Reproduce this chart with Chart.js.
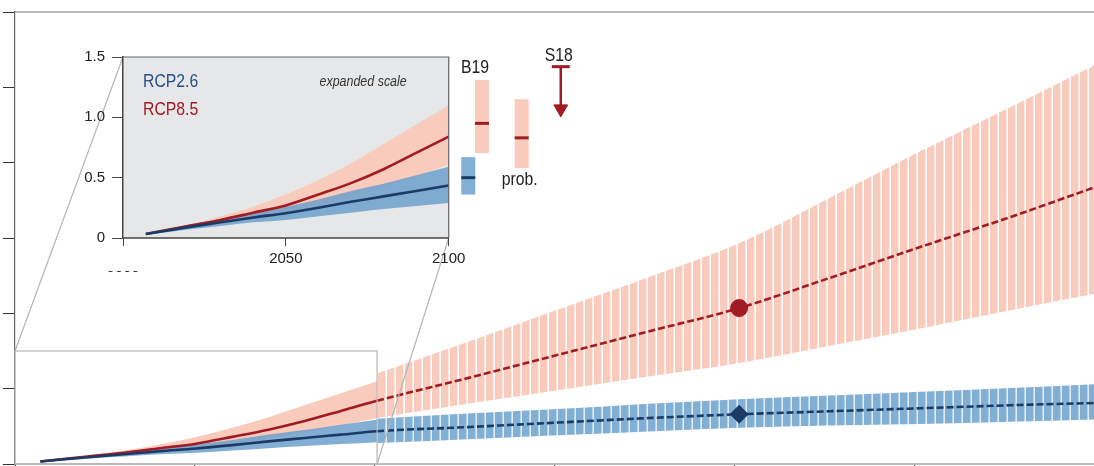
<!DOCTYPE html>
<html>
<head>
<meta charset="utf-8">
<script src="https://cdn.jsdelivr.net/npm/chart.js@4.4.1/dist/chart.umd.min.js"></script>
<style>
  html, body { margin: 0; padding: 0; background: #fff; overflow: hidden; }
  #wrap { position: relative; width: 1094px; height: 466px; }
  #main { position: absolute; left: 0; top: 0; }
  #inset { position: absolute; left: 60px; top: 40px; }
</style>
</head>
<body>
<div id="wrap">
  <canvas id="main" width="1094" height="466"></canvas>
  <canvas id="inset" width="540" height="232"></canvas>
</div>
<script>
// sea level rise (m)
const yearsNear  = [2007, 2020, 2030, 2040, 2050, 2060, 2070, 2080, 2090, 2100];
const rcp85Mid   = [0.033, 0.10, 0.15, 0.21, 0.27, 0.36, 0.455, 0.57, 0.705, 0.84];
const rcp85Hi    = [0.036, 0.11, 0.18, 0.26, 0.36, 0.48, 0.62, 0.78, 0.94, 1.10];
const rcp85Lo    = [0.030, 0.08, 0.12, 0.16, 0.21, 0.27, 0.34, 0.42, 0.51, 0.61];
const rcp26Mid   = [0.033, 0.09, 0.13, 0.17, 0.205, 0.25, 0.30, 0.345, 0.39, 0.435];
const rcp26Hi    = [0.036, 0.11, 0.16, 0.21, 0.26, 0.32, 0.39, 0.45, 0.52, 0.59];
const rcp26Lo    = [0.025, 0.07, 0.10, 0.13, 0.15, 0.18, 0.21, 0.24, 0.265, 0.29];

const yearsFar   = [2100, 2125, 2150, 2175, 2200, 2225, 2250, 2275, 2298];
const rcp85MidFar = [0.84, 1.14, 1.45, 1.76, 2.07, 2.47, 2.88, 3.28, 3.67];
const rcp85HiFar  = [1.20, 1.62, 2.05, 2.48, 2.93, 3.53, 4.15, 4.74, 5.29];
const rcp85LoFar  = [0.61, 0.80, 0.98, 1.16, 1.34, 1.57, 1.80, 2.04, 2.26];
const rcp26MidFar = [0.435, 0.49, 0.55, 0.61, 0.66, 0.70, 0.74, 0.78, 0.81];
const rcp26HiFar  = [0.60, 0.67, 0.73, 0.80, 0.86, 0.91, 0.96, 1.01, 1.06];
const rcp26LoFar  = [0.28, 0.33, 0.38, 0.43, 0.48, 0.51, 0.53, 0.56, 0.59];

const markYear = 2200;

// 2100 estimates beside the inset: [low, median, high]
const b19Low    = [0.36, 0.50, 0.67];
const b19High   = [0.705, 0.95, 1.31];
const probHigh  = [0.58, 0.83, 1.15];
const s18       = [1.42, 1.07];   // upper end, arrow head

const mainTicksY  = [0, 1, 2, 3, 4, 5, 6];
const insetTicksY = [0, 0.5, 1.0, 1.5];
const insetTicksX = [2000, 2050, 2100];

// layout (inset x units are years, the extra marks sit past 2100)
const insetX = [2000, 2100], insetY = [0, 1.5], insetXRoom = 2140;
const pos = { b19Lo: 2106, b19Hi: 2110.2, probHi: 2122.4, s18: 2134.4 };
const INSET_LEFT = 60, INSET_TOP = 40;
const FONT = '"Liberation Sans", Arial, sans-serif';

const RED = '#a01c22', NAVY = '#1b3a66';
const PINK = '#f9cbbd', BLUE = 'rgba(108,160,205,0.85)', BLUE_SOLID = '#82afd4';

function pts(xs, ys) { return xs.map((x, i) => ({ x: x, y: ys[i] })); }
function joined(a, b) { return pts(yearsNear, a).concat(pts(yearsFar, b).slice(1)); }

function stripes(color, gap) {
    const c = document.createElement('canvas');
    c.width = 9; c.height = 4;
    const g = c.getContext('2d');
    g.fillStyle = gap; g.fillRect(0, 0, 9, 4);
    g.fillStyle = color; g.fillRect(0, 0, 7.4, 4);
    return g.createPattern(c, 'repeat');
}

function band(data, fill, color, order) {
    return { data: data, fill: fill, backgroundColor: color, borderColor: 'transparent',
             borderWidth: 0, pointRadius: 0, order: order, cubicInterpolationMode: 'monotone' };
}

function median(data, color, order) {
    return { data: data, borderColor: color, borderWidth: 2.6, pointRadius: 0, fill: false,
             order: order, cubicInterpolationMode: 'monotone',
             segment: { borderDash: c => c.p0.parsed.x >= 2100 ? [7, 3] : undefined } };
}

// narrow-looking text: squeeze the regular face
function narrowText(ctx, text, x, y, size, color, align, italic) {
    ctx.save();
    ctx.font = (italic ? 'italic ' : '') + size + 'px ' + FONT;
    ctx.fillStyle = color;
    ctx.textAlign = align;
    ctx.textBaseline = 'alphabetic';
    ctx.translate(x, y);
    ctx.scale(0.83, 1);
    ctx.fillText(text, 0, 0);
    ctx.restore();
}

// ---------- inset ----------
function bar(x, v, color) {
    return { data: [{ x: x, y: v[0] }, { x: x, y: v[2] }], borderColor: color, borderWidth: 14,
             borderCapStyle: 'butt', pointRadius: 0, fill: false, order: 5 };
}
function tick(x, y, color, r) {
    return { data: [{ x: x, y: y }], showLine: false, pointStyle: 'line', pointRadius: r,
             pointBorderColor: color, pointBorderWidth: 3, order: 4 };
}

const insetDeco = {
    id: 'insetDeco',
    beforeDraw(chart) {
        const { ctx, chartArea: a, scales: { x } } = chart;
        const r = x.getPixelForValue(insetX[1]);
        ctx.save();
        ctx.fillStyle = '#e6e7e8';
        ctx.fillRect(a.left, a.top, r - a.left, a.bottom - a.top);
        ctx.restore();
    },
    afterDraw(chart) {
        const { ctx, chartArea: a, scales: { x, y } } = chart;
        const r = x.getPixelForValue(insetX[1]);
        ctx.save();
        ctx.strokeStyle = '#666';
        ctx.lineWidth = 1.2;
        ctx.beginPath();
        ctx.moveTo(a.left, a.top); ctx.lineTo(r, a.top); ctx.lineTo(r, a.bottom);
        ctx.stroke();
        ctx.strokeStyle = '#444';
        ctx.lineWidth = 1.5;
        ctx.beginPath();
        ctx.moveTo(a.left, a.bottom); ctx.lineTo(r, a.bottom);
        ctx.stroke();
        ctx.restore();

        narrowText(ctx, 'RCP2.6', a.left + 20, a.top + 30, 19, '#27508a', 'left');
        narrowText(ctx, 'RCP8.5', a.left + 20, a.top + 58, 19, RED, 'left');
        narrowText(ctx, 'expanded scale', r - 42, a.top + 29, 15, '#333', 'right', true);
        narrowText(ctx, 'B19', x.getPixelForValue((pos.b19Lo + pos.b19Hi) / 2),
                   y.getPixelForValue(b19High[2]) - 7, 19, '#222', 'center');
        narrowText(ctx, 'prob.', x.getPixelForValue(pos.probHi) - 2,
                   y.getPixelForValue(probHigh[0]) + 17, 19, '#222', 'center');
        narrowText(ctx, 'S18', x.getPixelForValue(pos.s18) - 2,
                   y.getPixelForValue(s18[0]) - 6, 19, '#222', 'center');
    }
};

const insetChart = new Chart(document.getElementById('inset'), {
    type: 'line',
    data: {
        datasets: [
            band(pts(yearsNear, rcp85Hi), '+1', PINK, 10),
            band(pts(yearsNear, rcp85Lo), false, PINK, 10),
            band(pts(yearsNear, rcp26Hi), '+1', BLUE, 9),
            band(pts(yearsNear, rcp26Lo), false, BLUE, 9),
            median(pts(yearsNear, rcp85Mid), RED, 3),
            median(pts(yearsNear, rcp26Mid), NAVY, 2),
            bar(pos.b19Lo, b19Low, BLUE_SOLID),
            bar(pos.b19Hi, b19High, PINK),
            bar(pos.probHi, probHigh, PINK),
            tick(pos.b19Lo, b19Low[1], NAVY, 7),
            tick(pos.b19Hi, b19High[1], RED, 7),
            tick(pos.probHi, probHigh[1], RED, 7),
            tick(pos.s18, s18[0], RED, 9),
            { data: [{ x: pos.s18, y: s18[0] }, { x: pos.s18, y: s18[1] }], borderColor: RED,
              borderWidth: 2.5, pointRadius: 0, fill: false, order: 4 },
            { data: [{ x: pos.s18, y: s18[1] }], showLine: false, pointStyle: 'triangle', rotation: 180,
              pointRadius: 8, pointBackgroundColor: RED, pointBorderColor: RED, pointBorderWidth: 1,
              order: 4 }
        ]
    },
    options: {
        responsive: false,
        animation: false,
        devicePixelRatio: 1,
        layout: { autoPadding: false, padding: { top: 17, right: 21, left: 0, bottom: 0 } },
        plugins: { legend: { display: false }, tooltip: { enabled: false } },
        scales: {
            x: {
                type: 'linear', min: insetX[0], max: insetXRoom, offset: false,
                afterBuildTicks: s => { s.ticks = insetTicksX.map(v => ({ value: v })); },
                ticks: { maxRotation: 0, autoSkip: false, padding: 4, color: '#222',
                         font: { family: FONT, size: 15 },
                         callback: v => v === 2000 ? ['', '2000'] : String(v) },
                grid: { drawOnChartArea: false, tickLength: 8, color: '#444' },
                border: { display: false },
                afterFit: s => { s.height = 34; }
            },
            y: {
                min: insetY[0], max: insetY[1],
                afterBuildTicks: s => { s.ticks = insetTicksY.map(v => ({ value: v })); },
                ticks: { padding: 7, color: '#222', font: { family: FONT, size: 15 },
                         callback: v => v === 0 ? '0' : v.toFixed(1) },
                grid: { drawOnChartArea: false, tickLength: 11, color: '#444' },
                border: { color: '#444', width: 1.5 },
                afterFit: s => { s.width = 63; }
            }
        }
    },
    plugins: [insetDeco]
});

// ---------- main ----------
const frame = {
    id: 'frame',
    afterDatasetsDraw(chart) {
        const { ctx, chartArea: a, scales: { x, y } } = chart;
        const ix = insetChart.scales.x, ia = insetChart.chartArea;
        ctx.save();
        ctx.strokeStyle = '#777';
        ctx.lineWidth = 1.2;
        ctx.beginPath();
        ctx.moveTo(a.left, a.top); ctx.lineTo(a.right, a.top);
        ctx.stroke();

        // the box that the inset enlarges
        const l = x.getPixelForValue(insetX[0]), r = x.getPixelForValue(insetX[1]);
        const t = y.getPixelForValue(insetY[1]), b = y.getPixelForValue(insetY[0]);
        ctx.strokeStyle = '#b5b5b5';
        ctx.strokeRect(l, t, r - l, b - t);
        ctx.beginPath();
        ctx.moveTo(l, t); ctx.lineTo(INSET_LEFT + ia.left, INSET_TOP + ia.top);
        ctx.moveTo(r, b); ctx.lineTo(INSET_LEFT + ix.getPixelForValue(insetX[1]), INSET_TOP + ia.bottom);
        ctx.stroke();
        ctx.restore();
    }
};

const iMark = yearsFar.indexOf(markYear);

new Chart(document.getElementById('main'), {
    type: 'line',
    data: {
        datasets: [
            band(pts(yearsNear, rcp85Hi), '+1', PINK, 10),
            band(pts(yearsNear, rcp85Lo), false, PINK, 10),
            band(pts(yearsFar, rcp85HiFar), '+1', stripes(PINK, '#ffffff'), 10),
            band(pts(yearsFar, rcp85LoFar), false, PINK, 10),
            band(pts(yearsNear, rcp26Hi), '+1', BLUE, 9),
            band(pts(yearsNear, rcp26Lo), false, BLUE, 9),
            band(pts(yearsFar, rcp26HiFar), '+1', stripes(BLUE_SOLID, '#e2ecf5'), 9),
            band(pts(yearsFar, rcp26LoFar), false, BLUE, 9),
            median(joined(rcp85Mid, rcp85MidFar), RED, 3),
            median(joined(rcp26Mid, rcp26MidFar), NAVY, 2),
            { data: [{ x: markYear, y: rcp85MidFar[iMark] }], showLine: false, pointStyle: 'circle',
              pointRadius: 8.5, pointBackgroundColor: RED, pointBorderColor: RED, order: 1 },
            { data: [{ x: markYear, y: rcp26MidFar[iMark] }], showLine: false, pointStyle: 'rectRot',
              pointRadius: 9, pointBackgroundColor: NAVY, pointBorderColor: NAVY, order: 1 }
        ]
    },
    options: {
        responsive: false,
        animation: false,
        devicePixelRatio: 1,
        layout: { autoPadding: false, padding: { top: 12, left: 0, right: 0, bottom: 0 } },
        plugins: { legend: { display: false }, tooltip: { enabled: false } },
        scales: {
            x: {
                type: 'linear', min: 2000, max: 2298, offset: false,
                ticks: { display: false, stepSize: 50, includeBounds: false },
                grid: { drawOnChartArea: false, tickLength: 8, color: '#333' },
                border: { color: '#bdbdbd', width: 2 },
                afterFit: s => { s.height = 2; }
            },
            y: {
                min: 0, max: 6,
                afterBuildTicks: s => { s.ticks = mainTicksY.map(v => ({ value: v })); },
                ticks: { display: false },
                grid: { drawOnChartArea: false, tickLength: 12, color: '#333' },
                border: { color: '#666', width: 1.2 },
                afterFit: s => { s.width = 15; }
            }
        }
    },
    plugins: [frame]
});
</script>
</body>
</html>
